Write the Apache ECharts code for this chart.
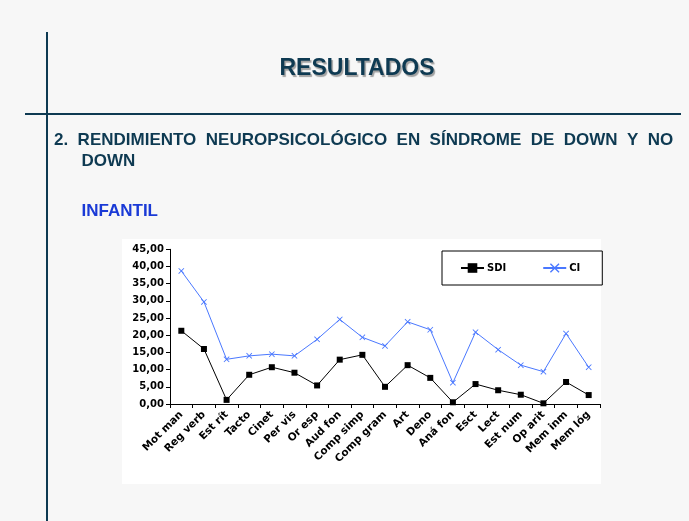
<!DOCTYPE html>
<html>
<head>
<meta charset="utf-8">
<script src="https://cdn.jsdelivr.net/npm/echarts@6/dist/echarts.min.js"></script>
<style>
html,body{margin:0;padding:0;background:#f7f7f7;}
#c{width:689px;height:521px;}
</style>
</head>
<body>
<div id="c"></div>
<script>
const categories = ['Mot man','Reg verb','Est rít','Tacto','Cinet','Per vis','Or esp','Aud fon','Comp simp','Comp gram','Art','Deno','Aná fon','Esct','Lect','Est num','Op arit','Mem inm','Mem lóg'];
const sdi = [21.3,16.0,1.2,8.5,10.7,9.1,5.4,12.9,14.3,5.0,11.3,7.6,0.5,5.8,4.0,2.7,0.2,6.4,2.6];
const ci  = [38.7,29.7,13.0,14.0,14.5,14.0,18.8,24.6,19.4,16.9,23.9,21.6,6.2,20.9,15.8,11.3,9.4,20.5,10.7];
const seriesNames = ['SDI','CI'];
const yMin = 0, yMax = 45, yStep = 5;

const navy = '#0e3a52';
const xSym = 'path://M0,1L1,0L5,4L9,0L10,1L6,5L10,9L9,10L5,6L1,10L0,9L4,5Z';
const chart = echarts.init(document.getElementById('c'));
chart.setOption({
  backgroundColor: '#f7f7f7',
  animation: false,
  graphic: [
    {type:'rect', shape:{x:122,y:239,width:479,height:245}, style:{fill:'#ffffff'}, z:-10},
    {type:'line', shape:{x1:47,y1:32,x2:47,y2:521}, style:{stroke:navy,lineWidth:2}},
    {type:'line', shape:{x1:25,y1:114,x2:681,y2:114}, style:{stroke:navy,lineWidth:2}},
    {type:'text', x:357, y:69, style:{text:'RESULTADOS', fill:navy, font:'bold 23px "Liberation Sans", Arial, sans-serif', align:'center', verticalAlign:'middle', textShadowColor:'rgba(0,0,0,0.35)', textShadowOffsetX:1.5, textShadowOffsetY:1.5, textShadowBlur:1}},
    {type:'text', x:54, y:140, style:{text:'2.  RENDIMIENTO  NEUROPSICOLÓGICO  EN  SÍNDROME  DE  DOWN  Y  NO', fill:navy, font:'bold 17px "Liberation Sans", Arial, sans-serif', align:'left', verticalAlign:'middle'}},
    {type:'text', x:81.5, y:161, style:{text:'DOWN', fill:navy, font:'bold 17px "Liberation Sans", Arial, sans-serif', align:'left', verticalAlign:'middle'}},
    {type:'text', x:81.5, y:211, style:{text:'INFANTIL', fill:'#1a3ad6', font:'bold 17px "Liberation Sans", Arial, sans-serif', align:'left', verticalAlign:'middle'}}
  ],
  grid: {left:170, right:89, top:249.3, bottom:117, containLabel:false},
  legend: {
    data: seriesNames,
    left: 442, top: 251,
    padding: [12, 22, 12, 18],
    itemGap: 36, itemWidth: 23, itemHeight: 12,
    borderColor: '#000', borderWidth: 1, backgroundColor:'#fff',
    textStyle: {fontFamily:'"DejaVu Sans", sans-serif', fontWeight:'bold', fontSize:10, color:'#000', padding:[0,0,0,-2]}
  },
  xAxis: {
    type: 'category', data: categories, boundaryGap: true,
    axisLine: {lineStyle:{color:'#000', width:1}},
    axisTick: {show:true, length:4, inside:false, alignWithLabel:false, lineStyle:{color:'#000'}},
    axisLabel: {rotate:45, interval:0, margin:9, color:'#000', fontFamily:'"DejaVu Sans", sans-serif', fontWeight:'bold', fontSize:10.5},
    splitLine: {show:false}
  },
  yAxis: {
    type: 'value', min: yMin, max: yMax, interval: yStep,
    axisLine: {show:true, lineStyle:{color:'#000', width:1}},
    axisTick: {show:true, length:4, lineStyle:{color:'#000'}},
    axisLabel: {margin:6, color:'#000', fontFamily:'"DejaVu Sans", sans-serif', fontWeight:'bold', fontSize:10,
      formatter: v => v.toFixed(2).replace('.', ',')},
    splitLine: {show:false}
  },
  series: [
    {name:seriesNames[0], type:'line', data:sdi, symbol:'rect', symbolSize:6,
      lineStyle:{color:'#000', width:1}, itemStyle:{color:'#000'}},
    {name:seriesNames[1], type:'line', data:ci, symbol:xSym, symbolSize:6,
      lineStyle:{color:'#4a78ff', width:1}, itemStyle:{color:'#4a78ff'}}
  ]
});
</script>
</body>
</html>
